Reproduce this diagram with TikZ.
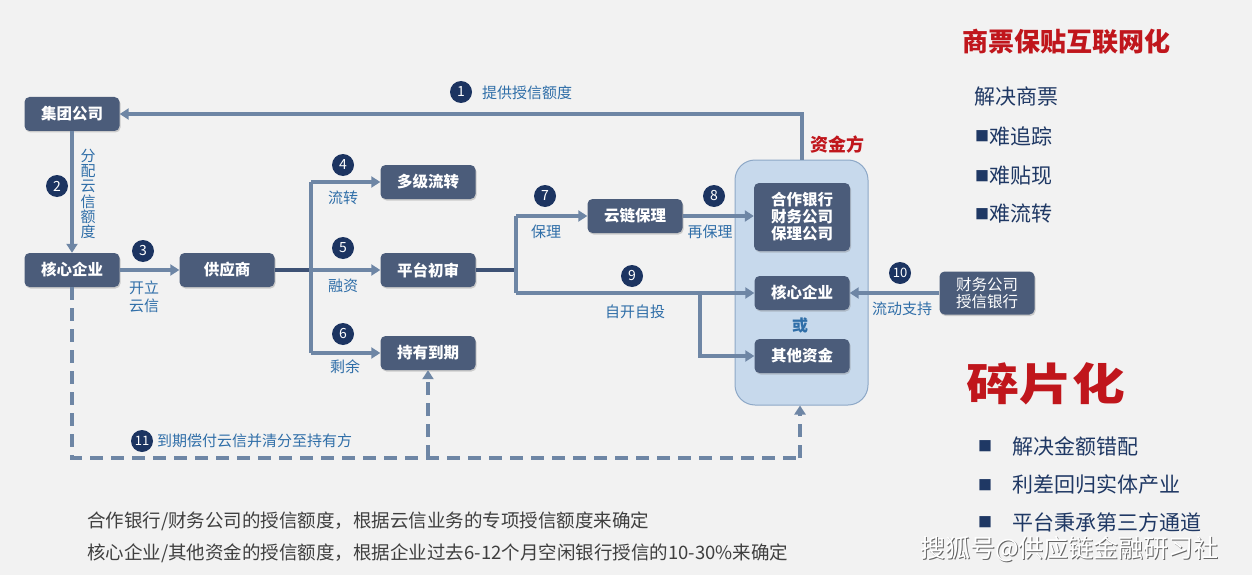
\documentclass[tikz,border=0pt]{standalone}
\usepackage{fontspec}
\setmainfont{Noto Sans CJK SC}
\newfontfamily\cjk{Noto Sans CJK SC}
\usetikzlibrary{arrows.meta,shadows}
\definecolor{bg}{HTML}{F2F2F2}
\definecolor{boxc}{HTML}{4B5C7A}
\definecolor{arr}{HTML}{6E86A5}
\definecolor{darr}{HTML}{3E5275}
\definecolor{navy}{HTML}{1C3461}
\definecolor{lab}{HTML}{2F6EA8}
\definecolor{contf}{HTML}{C7D9EC}
\definecolor{contd}{HTML}{8DA8C7}
\definecolor{redt}{HTML}{C0161C}
\definecolor{txt}{HTML}{1F3864}
\definecolor{gtx}{HTML}{3F3F3F}
\tikzset{
  bx/.style={fill=boxc, rounded corners=5pt, text=white, font=\fontsize{15.5}{18}\selectfont\bfseries,
    minimum width=95pt, minimum height=34pt, align=center, inner sep=2pt,
    drop shadow={shadow xshift=1pt, shadow yshift=-1.5pt, opacity=0.35}},
  ar/.style={draw=arr, line width=3.5pt, -{Triangle[length=9pt,width=11pt]}},
  ln/.style={draw=arr, line width=3.5pt},
  dk/.style={draw=darr, line width=3.5pt},
  ds/.style={draw=arr, line width=3.5pt, dash pattern=on 13pt off 8pt},
  num/.style={circle, fill=navy, text=white, minimum size=22pt, inner sep=0pt,
    font=\fontsize{14}{14}\selectfont},
  lb/.style={text=lab, font=\fontsize{15}{17}\selectfont, inner sep=1pt, align=center},
  rt/.style={text=txt, font=\fontsize{21}{21}\selectfont, anchor=west, inner sep=0pt},
  sq/.style={text=txt, font=\fontsize{14}{14}\selectfont, inner sep=0pt},
  bt/.style={text=gtx, font=\fontsize{18.5}{18.5}\selectfont, anchor=west, inner sep=0pt},
}
\begin{document}
\begin{tikzpicture}[x=1pt,y=-1pt]
\fill[bg] (0,0) rectangle (1252,575);
\useasboundingbox (0,0) rectangle (1252,575);

% container
\node[fill=contf, draw=contd, line width=1pt, rounded corners=20pt, minimum width=133pt, minimum height=245pt] (cont) at (801.5,282.5) {};
\node[text=redt, font=\fontsize{18}{18}\selectfont\bfseries] (zjf) at (837,145) {资金方};

% boxes
\node[bx] (jt) at (72,114) {集团公司};
\node[bx] (hx) at (72,270) {核心企业};
\node[bx] (gys) at (227,270) {供应商};
\node[bx] (dj) at (428,182) {多级流转};
\node[bx] (pt) at (428,270) {平台初审};
\node[bx] (cy) at (428,353) {持有到期};
\node[bx] (yl) at (635,216) {云链保理};
\node[bx, minimum height=68pt, minimum width=96pt, font=\fontsize{15.5}{17}\selectfont\bfseries] (hz) at (802,217) {合作银行\\财务公司\\保理公司};
\node[bx] (hx2) at (802,293) {核心企业};
\node[lb, font=\fontsize{16}{16}\selectfont\bfseries] (huo) at (800,325) {或};
\node[bx] (qt) at (802,356) {其他资金};
\node[bx, minimum height=43pt, font=\fontsize{15.5}{17}\selectfont] (cw) at (987,293) {财务公司\\授信银行};

% coordinates
\coordinate (c1) at (802,114);
\coordinate (b1) at (311,270);
\coordinate (b1t) at (311,182);
\coordinate (b1b) at (311,353);
\coordinate (b2) at (516,270);
\coordinate (b2t) at (516,216);
\coordinate (b2b) at (516,293);
\coordinate (b3) at (700,293);
\coordinate (b3b) at (700,356);
\coordinate (d1) at (72,458);
\coordinate (d2) at (428,458);
\coordinate (d3) at (800,458);

% arrows
\draw[ar] (cont.north -| c1) -- (c1) -- (jt.east);
\draw[ar] (jt.south) -- (hx.north);
\draw[ar] (hx.east) -- (gys.west);
\draw[dk] (gys.east) -- (b1);
\draw[ln] (b1t) -- (b1b);
\draw[ar] (b1t) -- (dj.west);
\draw[ar] (b1) -- (pt.west);
\draw[ar] (b1b) -- (cy.west);
\draw[dk] (pt.east) -- (b2);
\draw[ln] (b2t) -- (b2b);
\draw[ar] (b2t) -- (yl.west);
\draw[ar] (b2b) -- (hx2.west);
\draw[ar] (b3) -- (b3b) -- (qt.west);
\draw[ar] (yl.east) -- (hz.west |- yl.east);
\draw[ar] (cw.west) -- (hx2.east);
\draw[ds] (hx.south) -- (d1) -- (d3);
\draw[ds, -{Triangle[length=9pt,width=11pt]}] (d3) -- (cont.south -| d3);
\draw[ds, -{Triangle[length=9pt,width=11pt]}] (d2) -- (cy.south);

% numbers and labels
\node[num] (n1) at (461,92) {1};
\node[lb, anchor=west] (l1) at (481,93) {提供授信额度};
\node[num] (n2) at (57,186) {2};
\node[lb, font=\fontsize{15}{15.3}\selectfont] (l2) at (88,194) {分\\配\\云\\信\\额\\度};
\node[num] (n3) at (143,251) {3};
\node[lb, font=\fontsize{15}{18}\selectfont] (l3) at (144,297) {开立\\云信};
\node[num] (n4) at (343,165) {4};
\node[lb] (l4) at (343,198) {流转};
\node[num] (n5) at (343,248) {5};
\node[lb] (l5) at (343,286) {融资};
\node[num] (n6) at (343,334) {6};
\node[lb] (l6) at (345,367) {剩余};
\node[num] (n7) at (545,196) {7};
\node[lb] (l7) at (546,232) {保理};
\node[num] (n8) at (714,196) {8};
\node[lb] (l8) at (710,232) {再保理};
\node[num] (n9) at (632,276) {9};
\node[lb] (l9) at (635,312) {自开自投};
\node[num, font=\fontsize{13}{13}\selectfont] (n10) at (900,273) {10};
\node[lb] (l10) at (902,309) {流动支持};
\node[num, font=\fontsize{13}{13}\selectfont] (n11) at (142,441) {11};
\node[lb, anchor=west] (l11) at (156,441) {到期偿付云信并清分至持有方};

% right texts
\node[text=redt, font=\fontsize{26}{26}\selectfont\bfseries, anchor=west, inner sep=0pt] (t1) at (962,42) {商票保贴互联网化};
\node[rt] (t2) at (974,97) {解决商票};
\node[sq, anchor=west] (s3) at (975,136) {■};
\node[rt] (t3) at (989,136) {难追踪};
\node[sq, anchor=west] (s4) at (975,176) {■};
\node[rt] (t4) at (989,176) {难贴现};
\node[sq, anchor=west] (s5) at (975,214) {■};
\node[rt] (t5) at (989,214) {难流转};
\node[text=redt, font=\fontsize{44}{44}\selectfont\bfseries, xscale=1.2] (t6) at (1046,384) {碎片化};
\node[sq] (q1) at (985,446) {■};
\node[rt] (t7) at (1012,446) {解决金额错配};
\node[sq] (q2) at (985,485) {■};
\node[rt] (t8) at (1012,485) {利差回归实体产业};
\node[sq] (q3) at (985,522) {■};
\node[rt] (t9) at (1012,522) {平台秉承第三方通道};

% bottom text
\node[bt] (bl1) at (87,521) {合作银行/财务公司的授信额度，根据云信业务的专项授信额度来确定};
\node[bt] (bl2) at (87,553) {核心企业/其他资金的授信额度，根据企业过去6-12个月空闲银行授信的10-30\%来确定};

% watermark
\node[text=black!60, font=\fontsize{25}{25}\selectfont, anchor=west, inner sep=0pt] (wms) at (920.8,549.8) {搜狐号@供应链金融研习社};
\node[text=white, font=\fontsize{25}{25}\selectfont, anchor=west, inner sep=0pt] (wm) at (920,549) {搜狐号@供应链金融研习社};
\end{tikzpicture}
\end{document}
